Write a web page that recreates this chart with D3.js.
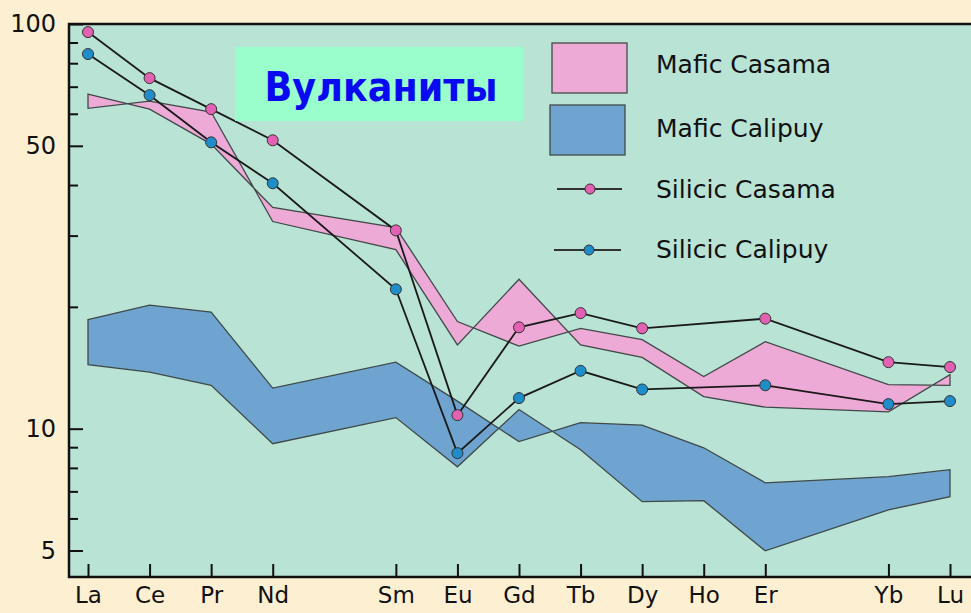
<!DOCTYPE html>
<html><head><meta charset="utf-8">
<script src="https://cdn.jsdelivr.net/npm/d3@7"></script>
<style>
html,body{margin:0;padding:0;background:#fdf0d2;}
svg{display:block;}
</style></head>
<body>
<svg id="chart" width="971" height="613"></svg>
<script>
// ---------- data ----------
const elements = ["La","Ce","Pr","Nd","Sm","Eu","Gd","Tb","Dy","Ho","Er","Yb","Lu"];
const atomicNumbers = [57,58,59,60,62,63,64,65,66,67,68,70,71];

// Mafic Casama envelope (two boundary curves, they cross)
const maficCasamaA = [67.1,61.6,50.5,35.2,31.4,18.4,16.0,17.7,16.6,13.45,16.4,12.85,12.8];
const maficCasamaB = [61.9,64.5,60.6,32.5,27.7,16.1,23.4,16.1,15.0,12.0,11.3,11.0,13.6];

// Mafic Calipuy envelope
const maficCalipuyA = [18.6,20.2,19.4,12.6,14.6,11.7,9.29,10.35,10.2,8.97,7.35,7.61,7.92];
const maficCalipuyB = [14.4,13.8,12.8,9.18,10.65,8.05,11.15,8.87,6.6,6.64,4.99,6.3,6.79];

// Silicic samples (no Ho analysis)
const silicicCasama  = [95.5,73.5,61.6,51.6,30.9,10.8,17.8,19.3,17.7,null,18.7,14.6,14.2];
const silicicCalipuy = [84.3,66.7,51.0,40.4,22.1,8.7,11.9,13.9,12.5,null,12.8,11.5,11.7];

const yMajorTicks = [5,10,50,100];
const yMinorTicks = [6,7,8,9,20,30,40,60,70,80,90];

const legendLabels = ["Mafic Casama","Mafic Calipuy","Silicic Casama","Silicic Calipuy"];
const titleText = "Вулканиты";

(function(){
// ---------- styles ----------
const C = {
  plotBg:"#b9e3d5", pinkFill:"#eeaad6", blueFill:"#6ea4cf", bandStroke:"#3f4a48",
  pinkDot:"#e261b2", blueDot:"#1e8dc9", line:"#1a1a1a", titleBox:"#99fdcc", titleText:"#0a0af2"
};
const FONT = "'DejaVu Sans', Verdana, sans-serif";

const svg = d3.select("#chart");
const mLeft = 69, mTop = 24, mBottom = 577, mRight = 971;

const x = d3.scaleLinear().domain([57,71]).range([88,950]);
const y = d3.scaleLog().domain([4.3,100]).range([mBottom, mTop]);

svg.append("rect").attr("x",mLeft).attr("y",mTop).attr("width",mRight-mLeft).attr("height",mBottom-mTop).attr("fill",C.plotBg);

const idx = d3.range(elements.length);

const area = (A,B) => d3.area()
  .x(i => x(atomicNumbers[i]))
  .y1(i => y(A[i]))
  .y0(i => y(B[i]));

svg.append("path").datum(idx)
  .attr("d", area(maficCasamaA, maficCasamaB))
  .attr("fill", C.pinkFill).attr("stroke", C.bandStroke).attr("stroke-width",1.3);
svg.append("path").datum(idx)
  .attr("d", area(maficCalipuyA, maficCalipuyB))
  .attr("fill", C.blueFill).attr("stroke", C.bandStroke).attr("stroke-width",1.3);

function series(vals, color){
  const pts = idx.filter(i => vals[i] != null);
  svg.append("path").datum(pts)
    .attr("d", d3.line().x(i => x(atomicNumbers[i])).y(i => y(vals[i])))
    .attr("fill","none").attr("stroke",C.line).attr("stroke-width",1.8);
  svg.append("g").selectAll("circle").data(pts).join("circle")
    .attr("cx", i => x(atomicNumbers[i])).attr("cy", i => y(vals[i])).attr("r",5.5)
    .attr("fill", color).attr("stroke","#333").attr("stroke-width",1);
}
series(silicicCalipuy, C.blueDot);
series(silicicCasama, C.pinkDot);

const gx = svg.append("g").attr("transform",`translate(0,${mBottom})`)
  .call(d3.axisBottom(x).tickValues(atomicNumbers).tickFormat((d,i)=>elements[i]).tickSizeInner(-13).tickPadding(10));
gx.select(".domain").remove();
gx.selectAll(".tick line").attr("stroke","#111").attr("stroke-width",2);
gx.selectAll(".tick text").attr("font-family",FONT).attr("font-size",23).attr("fill","#111");

const gyMinor = svg.append("g").attr("transform",`translate(${mLeft},0)`)
  .call(d3.axisLeft(y).tickValues(yMinorTicks).tickFormat("").tickSizeInner(-9));
gyMinor.select(".domain").remove();
gyMinor.selectAll(".tick line").attr("stroke","#111").attr("stroke-width",2);

const gy = svg.append("g").attr("transform",`translate(${mLeft},0)`)
  .call(d3.axisLeft(y).tickValues(yMajorTicks).tickFormat(d3.format("d")).tickSizeInner(-14).tickPadding(13));
gy.select(".domain").remove();
gy.selectAll(".tick line").attr("stroke","#111").attr("stroke-width",2);
gy.selectAll(".tick text").attr("font-family",FONT).attr("font-size",24).attr("fill","#111");

svg.append("path")
  .attr("d",`M${mRight},${mTop}H${mLeft}V${mBottom}H${mRight}`)
  .attr("fill","none").attr("stroke","#111").attr("stroke-width",2.5);

svg.append("rect").attr("x",235).attr("y",47).attr("width",288).attr("height",74).attr("fill",C.titleBox);
svg.append("text").attr("x",381).attr("y",101).attr("text-anchor","middle")
  .attr("font-family","'Comic Sans MS','Comic Neue','DejaVu Sans',sans-serif").attr("font-weight","bold")
  .attr("font-size",41).attr("fill",C.titleText)
  .attr("textLength",233).attr("lengthAdjust","spacingAndGlyphs")
  .text(titleText);

const lg = svg.append("g");
lg.append("rect").attr("x",552).attr("y",43).attr("width",75).attr("height",50)
  .attr("fill",C.pinkFill).attr("stroke",C.bandStroke).attr("stroke-width",1.3);
lg.append("rect").attr("x",550).attr("y",105).attr("width",75).attr("height",50)
  .attr("fill",C.blueFill).attr("stroke",C.bandStroke).attr("stroke-width",1.3);
[[189,557,622,590,C.pinkDot],[250,554,621,589,C.blueDot]].forEach(([yy,x1,x2,cx,col])=>{
  lg.append("line").attr("x1",x1).attr("x2",x2).attr("y1",yy).attr("y2",yy).attr("stroke","#333").attr("stroke-width",1.8);
  lg.append("circle").attr("cx",cx).attr("cy",yy).attr("r",5).attr("fill",col).attr("stroke","#333").attr("stroke-width",1);
});
const legendY = [64,128,189,249];
lg.selectAll("text").data(legendLabels).join("text")
  .attr("x",656).attr("y",(d,i)=>legendY[i]).attr("dy","0.36em")
  .attr("font-family",FONT).attr("font-size",25).attr("fill","#111")
  .text(d=>d);
})();
</script>
</body></html>
